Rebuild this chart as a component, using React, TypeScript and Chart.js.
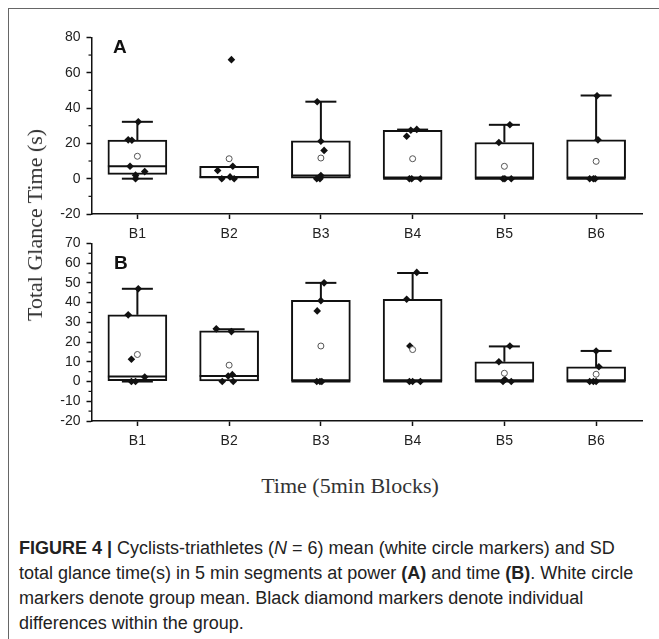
import React, { useEffect, useRef } from 'react';
import { Chart, registerables } from 'chart.js';

Chart.register(...registerables);

// ---------- data ----------
const blocks = ['B1', 'B2', 'B3', 'B4', 'B5', 'B6'];

// Panel A (power)
const aQ1 = [2.4, 0, 0, 0, 0, 0];
const aMedian = [7, 0.9, 1.8, 0, 0, 0];
const aQ3 = [21.9, 7, 21.4, 27.4, 20.5, 22];
const aWhiskerLow: (number | null)[] = [0, null, null, null, null, null];
const aWhiskerHigh: (number | null)[] = [32.2, null, 43.6, 27.8, 30.5, 47.1];
const aMean = [12.7, 11.3, 11.7, 11.3, 7.0, 9.8];
const aPoints = [
  [32.2, 22, 21.8, 7, 4, 2, 0],
  [67.4, 7, 4.6, 1, 0, 0],
  [43.6, 21.2, 16, 1.8, 0, 0],
  [27.9, 27.4, 24, 0, 0, 0],
  [30.5, 20.5, 0, 0, 0],
  [47, 22, 0, 0, 0],
];
// horizontal jitter of the individual markers (category units)
const aJitter = [
  [0.01, -0.1, -0.06, -0.08, 0.08, -0.02, -0.02],
  [0.025, 0.04, -0.125, 0.01, -0.08, 0.055],
  [-0.04, 0, 0.035, 0, -0.045, -0.01],
  [0.045, -0.02, -0.065, -0.035, -0.01, 0.085],
  [0.06, -0.06, -0.015, 0.005, 0.075],
  [0.01, 0.02, -0.07, -0.03, -0.01],
];

// Panel B (time)
const bQ1 = [0.5, 0, 0, 0, 0, 0];
const bMedian = [2.5, 2.8, 0, 0, 0, 0];
const bQ3 = [33.8, 25.7, 41.2, 41.7, 10, 7.5];
const bWhiskerLow: (number | null)[] = [0, null, null, null, null, null];
const bWhiskerHigh: (number | null)[] = [47, 26.5, 50, 55, 17.8, 15.5];
const bMean = [13.7, 8.3, 18, 16.2, 4.2, 3.7];
const bPoints = [
  [47, 33.8, 11.3, 2.3, 0, 0],
  [26.7, 25.3, 3.5, 2.8, 0, 0],
  [50, 41, 35.8, 0, 0, 0],
  [55.3, 41.7, 18, 0, 0, 0],
  [18, 10, 1, 0, 0],
  [15.5, 7.5, 0, 0, 0],
];
const bJitter = [
  [0.01, -0.1, -0.065, 0.08, -0.065, -0.02],
  [-0.14, 0.025, 0.035, -0.01, -0.075, 0.045],
  [0.035, 0, -0.04, -0.045, -0.01, 0.01],
  [0.045, -0.065, -0.03, -0.035, 0, 0.085],
  [0.06, -0.06, 0.005, -0.015, 0.075],
  [0, 0.03, -0.07, -0.03, 0],
];

// axes
const aYMin = -20;
const aYMax = 80;
const aYStep = 20;
const aMinorTicks = [-10, 10, 30, 50, 70];
const bYMin = -20;
const bYMax = 70;
const bYStep = 10;
const bMinorTicks = [-15, -5, 5, 15, 25, 35, 45, 55, 65];

// ---------- chart helpers ----------
const SANS = '"Liberation Sans", Arial, Helvetica, sans-serif';
const SERIF = '"Liberation Serif", "Times New Roman", Times, serif';
const INK = '#111';

const boxExtras = {
  id: 'boxExtras',
  afterDatasetDraw(chart: any, args: any, opts: any) {
    if (args.index !== 0) return;
    const { ctx } = chart;
    const xs = chart.scales.x;
    const ys = chart.scales.y;
    const half = opts.boxWidth / 2;
    const capHalf = opts.capWidth / 2;
    ctx.save();
    ctx.strokeStyle = INK;
    ctx.lineWidth = opts.lineWidth;
    const seg = (x1: number, y1: number, x2: number, y2: number) => {
      ctx.beginPath();
      ctx.moveTo(x1, y1);
      ctx.lineTo(x2, y2);
      ctx.stroke();
    };
    opts.median.forEach((m: number, i: number) => {
      const cx = xs.getPixelForValue(i);
      const ym = ys.getPixelForValue(m);
      seg(cx - half, ym, cx + half, ym);
      const hi = opts.high[i];
      if (hi !== null && hi !== undefined) {
        const yq3 = ys.getPixelForValue(opts.q3[i]);
        const yh = ys.getPixelForValue(hi);
        seg(cx, yq3, cx, yh);
        seg(cx - capHalf, yh, cx + capHalf, yh);
      }
      const lo = opts.low[i];
      if (lo !== null && lo !== undefined) {
        const yq1 = ys.getPixelForValue(opts.q1[i]);
        const yl = ys.getPixelForValue(lo);
        seg(cx, yq1, cx, yl);
        seg(cx - capHalf, yl, cx + capHalf, yl);
      }
    });
    ctx.restore();
  },
  afterDraw(chart: any, _args: any, opts: any) {
    const { ctx, chartArea } = chart;
    const ys = chart.scales.y;
    ctx.save();
    ctx.strokeStyle = INK;
    ctx.lineWidth = 1.2;
    (opts.minor || []).forEach((v: number) => {
      const py = ys.getPixelForValue(v);
      ctx.beginPath();
      ctx.moveTo(chartArea.left, py);
      ctx.lineTo(chartArea.left - 3, py);
      ctx.stroke();
    });
    ctx.restore();
  },
};

function buildConfig(p: any): any {
  const diamonds = p.points.flatMap((vals: number[], i: number) =>
    vals.map((v, j) => ({ x: i + p.jitter[i][j], y: v }))
  );
  return {
    type: 'bar',
    data: {
      datasets: [
        {
          type: 'bar',
          data: blocks.map((_, i) => ({ x: i, y: [p.q1[i], p.q3[i]] })),
          backgroundColor: '#ffffff',
          borderColor: INK,
          borderWidth: 2,
          borderSkipped: false,
          barThickness: 59,
          order: 2,
        },
        {
          type: 'scatter',
          data: diamonds,
          pointStyle: 'rectRot',
          pointRadius: 3.8,
          backgroundColor: INK,
          borderColor: INK,
          borderWidth: 0,
          order: 1,
        },
        {
          type: 'scatter',
          data: p.mean.map((v: number, i: number) => ({ x: i, y: v })),
          pointStyle: 'circle',
          pointRadius: 3,
          backgroundColor: '#ffffff',
          borderColor: '#555',
          borderWidth: 1,
          order: 0,
        },
      ],
    },
    options: {
      animation: false,
      responsive: false,
      devicePixelRatio: 1,
      layout: { padding: { top: 12, right: 10, left: 0, bottom: 0 } },
      plugins: {
        legend: { display: false },
        tooltip: { enabled: false },
        boxExtras: {
          median: p.median,
          q1: p.q1,
          q3: p.q3,
          low: p.low,
          high: p.high,
          boxWidth: 59,
          capWidth: 31,
          lineWidth: 2,
          minor: p.minor,
        },
      },
      scales: {
        x: {
          type: 'linear',
          min: -0.5,
          max: 5.5,
          offset: false,
          afterBuildTicks: (s: any) => {
            s.ticks = blocks.map((_, i) => ({ value: i }));
          },
          afterFit: (s: any) => {
            s.height = 30;
          },
          grid: {
            display: true,
            drawOnChartArea: false,
            drawTicks: true,
            tickLength: 5,
            tickWidth: 1.5,
            tickColor: INK,
            offset: false,
          },
          border: { display: true, color: INK, width: 1.5 },
          ticks: {
            callback: (v: number) => blocks[v] ?? '',
            autoSkip: false,
            maxRotation: 0,
            padding: 7,
            color: '#222',
            font: { family: SANS, size: 14 },
          },
        },
        y: {
          type: 'linear',
          min: p.yMin,
          max: p.yMax,
          afterFit: (s: any) => {
            s.width = 49.5;
          },
          grid: {
            display: true,
            drawOnChartArea: false,
            drawTicks: true,
            tickLength: 5,
            tickWidth: 1.5,
            tickColor: INK,
          },
          border: { display: true, color: INK, width: 1.5 },
          ticks: {
            stepSize: p.yStep,
            autoSkip: false,
            padding: 6,
            color: '#222',
            font: { family: SANS, size: 14 },
          },
        },
      },
    },
    plugins: [boxExtras],
  };
}

function Panel(props: { cfg: any; left: number; top: number; width: number; height: number }) {
  const ref = useRef<HTMLCanvasElement | null>(null);
  useEffect(() => {
    if (!ref.current) return;
    const chart = new Chart(ref.current, buildConfig(props.cfg));
    return () => chart.destroy();
  }, []);
  return (
    <canvas
      ref={ref}
      width={props.width}
      height={props.height}
      style={{ position: 'absolute', left: props.left, top: props.top, width: props.width, height: props.height }}
    />
  );
}

const panelA = {
  q1: aQ1, median: aMedian, q3: aQ3, low: aWhiskerLow, high: aWhiskerHigh,
  mean: aMean, points: aPoints, jitter: aJitter,
  yMin: aYMin, yMax: aYMax, yStep: aYStep, minor: aMinorTicks,
};
const panelB = {
  q1: bQ1, median: bMedian, q3: bQ3, low: bWhiskerLow, high: bWhiskerHigh,
  mean: bMean, points: bPoints, jitter: bJitter,
  yMin: bYMin, yMax: bYMax, yStep: bYStep, minor: bMinorTicks,
};

export default function App() {
  return (
    <div
      style={{
        position: 'fixed',
        left: 8,
        top: 8,
        width: 651,
        height: 631,
        overflow: 'hidden',
        background: '#fff',
        borderLeft: '1px solid #666',
        borderTop: '1px solid #666',
        boxSizing: 'border-box',
      }}
    >
      <Panel cfg={panelA} left={33} top={14} width={610} height={221} />
      <Panel cfg={panelB} left={33} top={220} width={610} height={222} />
      <div style={{ position: 'absolute', left: 104, top: 28, font: `bold 19px ${SANS}`, lineHeight: 1, color: '#111' }}>A</div>
      <div style={{ position: 'absolute', left: 105, top: 244, font: `bold 19px ${SANS}`, lineHeight: 1, color: '#111' }}>B</div>
      <div
        style={{
          position: 'absolute',
          left: 26,
          top: 216,
          transform: 'translate(-50%, -50%) rotate(-90deg)',
          font: `22px ${SERIF}`,
          lineHeight: 1,
          whiteSpace: 'nowrap',
          color: '#333',
        }}
      >
        Total Glance Time (s)
      </div>
      <div
        style={{
          position: 'absolute',
          left: 341,
          top: 477,
          transform: 'translate(-50%, -50%)',
          font: `22px ${SERIF}`,
          lineHeight: 1,
          whiteSpace: 'nowrap',
          color: '#333',
        }}
      >
        Time (5min Blocks)
      </div>
      <div
        style={{
          position: 'absolute',
          left: 10,
          top: 527,
          font: `18px ${SANS}`,
          lineHeight: '25px',
          whiteSpace: 'nowrap',
          color: '#222',
        }}
      >
        <b>FIGURE 4 |</b> Cyclists-triathletes (<i>N</i> = 6) mean (white circle markers) and SD
        <br />
        total glance time(s) in 5 min segments at power <b>(A)</b> and time <b>(B)</b>. White circle
        <br />
        markers denote group mean. Black diamond markers denote individual
        <br />
        differences within the group.
      </div>
    </div>
  );
}
